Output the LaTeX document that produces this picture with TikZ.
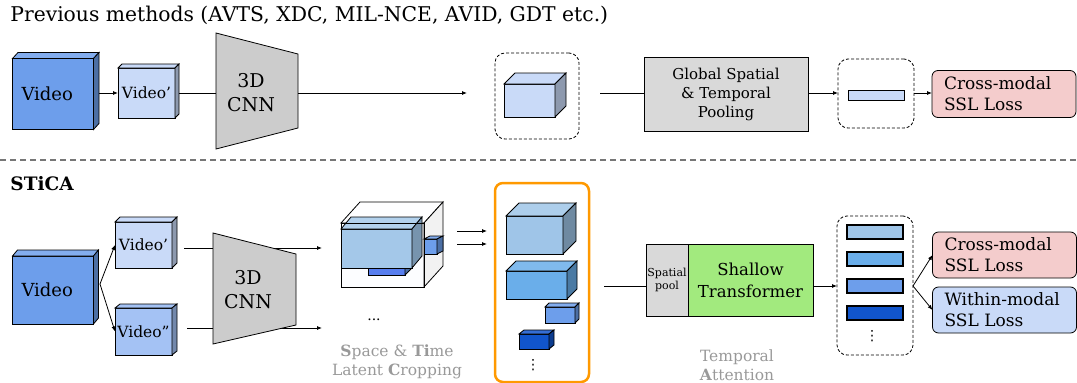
\documentclass[tikz,border=0pt]{standalone}
\usepackage{fontspec}
\setmainfont{DejaVu Serif}
\newfontfamily\dotsfont{DejaVu Sans}
\usepackage{tikz}
\usetikzlibrary{arrows.meta}

\definecolor{vidblue}{HTML}{6D9EEB}
\definecolor{lightblue}{HTML}{C9DAF8}
\definecolor{vidtwoblue}{HTML}{A4C2F4}
\definecolor{cnngray}{HTML}{CCCCCC}
\definecolor{boxgray}{HTML}{D9D9D9}
\definecolor{losspink}{HTML}{F4CCCC}
\definecolor{transgreen}{HTML}{A2EA7E}
\definecolor{cropframe}{HTML}{FF9900}
\definecolor{featone}{HTML}{9FC5E8}
\definecolor{feattwo}{HTML}{6AAEEA}
\definecolor{featthree}{HTML}{6D9EEB}
\definecolor{featfour}{HTML}{1155CC}
\definecolor{capgray}{HTML}{999999}
\definecolor{sepgray}{HTML}{777777}

\newcommand{\fsz}[2]{\fontsize{#1}{#2}\selectfont}
% top and right faces of a box node: name, dx, dy, top colour, side colour
\newcommand{\boxdepth}[5]{%
  \path (#1.north east) ++(#2,-#3) coordinate (#1-tr);
  \path (#1.south east) ++(#2,-#3) coordinate (#1-br);
  \filldraw[fill=#4] (#1.north west) -- ++(#2,-#3) -- (#1-tr) -- (#1.north east) -- cycle;
  \filldraw[fill=#5] (#1.north east) -- (#1-tr) -- (#1-br) -- (#1.south east) -- cycle;
}

\begin{document}
\begin{tikzpicture}[x=1pt,y=1pt,yscale=-1,line width=0.8pt,
  blk/.style={draw,outer sep=0pt,inner sep=0pt,align=center},
  vidbox/.style={blk,align=left,inner xsep=9pt,text width=63pt,font=\fsz{18}{22}},
  smallvid/.style={blk,minimum width=57pt,font=\fsz{15.5}{19}},
  dbox/.style={draw,dash pattern=on 3pt off 2pt,rounded corners=10pt,outer sep=0pt,inner sep=0pt},
  loss/.style={draw,rounded corners=6pt,outer sep=0pt,inner xsep=12pt,inner ysep=0pt,text width=120pt,minimum height=47pt,align=left,font=\fsz{17}{21}},
  bar/.style={draw,line width=1.2pt,outer sep=0pt,inner sep=0pt,minimum width=56pt,minimum height=14pt},
  captxt/.style={text=capgray,align=center,font=\fsz{15.5}{19}},
  vdotstxt/.style={inner sep=0pt,font=\dotsfont\fsz{14}{16}},
  arr/.style={-{Latex[length=5pt,width=4pt]}}]
\useasboundingbox (0,0) rectangle (1077,383);

% Text Node
\node[anchor=base west,inner sep=0pt,font=\fsz{20.3}{24}] (title) at (10,21) {Previous methods (AVTS, XDC, MIL-NCE, AVID, GDT etc.)};

%Shape: Video boxes (previous methods)
\node[vidbox,fill=vidblue,minimum height=71pt] (vidA) at (53,94) {Video};
\boxdepth{vidA}{5.5}{6}{vidblue!85!white}{vidblue!70!black}
\node[smallvid,fill=lightblue,minimum height=50pt] (vidAone) at (146.5,93) {Video’};
\boxdepth{vidAone}{4}{4}{lightblue}{lightblue!70!black}
\draw[arr] (vidA-br |- vidAone.west) -- (vidAone.west);

%Shape: 3D CNN
\coordinate (cnnAl) at (216,93);
\coordinate (cnnAr) at (298,93);
\draw (vidAone-br |- vidAone.west) -- (cnnAl);
\filldraw[fill=cnngray] (216,33) -- (298,54) -- (298,128) -- (216,149) -- cycle;
\node[align=center,font=\fsz{19}{24}] (cnnA) at (251,93) {3D\\CNN};

%Shape: feature volume
\node[dbox,minimum width=84pt,minimum height=86pt] (featA) at (537,96) {};
\node[blk,fill=lightblue,minimum width=51pt,minimum height=33pt] (cubeA) at (529.5,100.5) {};
\boxdepth{cubeA}{11}{11}{lightblue}{lightblue!70!black}
\coordinate (featAin) at (467,93);
\coordinate (featAout) at (600,93);
\draw[arr] (cnnAr) -- (featAin);

%Shape: pooling and loss
\node[blk,fill=boxgray,minimum width=164pt,minimum height=74pt,font=\fsz{15}{19}] (poolA) at (726,94) {Global Spatial\\\& Temporal\\Pooling};
\draw (featAout) -- (featAout -| poolA.west);
\node[dbox,minimum width=76pt,minimum height=69pt] (vecA) at (876,93.5) {};
\node[blk,fill=lightblue,minimum width=56pt,minimum height=10pt] (barA) at (876,95) {};
\draw[arr] (poolA.east |- featAout) -- (vecA.west |- featAout);
\node[loss,fill=losspink] (lossA) at (1004,94) {Cross-modal\\SSL Loss};
\draw[arr] (vecA.east |- featAout) -- (lossA.west |- featAout);

%Straight Lines: separator
\draw[sepgray,line width=1.5pt,dash pattern=on 6pt off 4pt] (0,160) -- (1077,160);

% Text Node
\node[anchor=base west,inner sep=0pt,font=\bfseries\fsz{18.5}{22}] (stica) at (10,190) {STiCA};

%Shape: Video boxes (STiCA)
\node[vidbox,fill=vidblue,minimum height=68pt] (vidB) at (53,290) {Video};
\boxdepth{vidB}{5}{6}{vidblue!85!white}{vidblue!70!black}
\node[smallvid,fill=lightblue,minimum height=46pt] (vidBone) at (143.5,245) {Video’};
\boxdepth{vidBone}{5}{5}{lightblue}{lightblue!70!black}
\node[smallvid,fill=vidtwoblue,minimum height=47pt] (vidBtwo) at (143.5,331.5) {Video”};
\boxdepth{vidBtwo}{5}{4}{vidtwoblue}{vidtwoblue!70!black}
\coordinate (vidBo) at (100,284);
\draw[arr] (vidBo) -- (vidBone.west);
\draw[arr] (vidBo) -- (vidBtwo.west);

%Shape: 3D CNN
\coordinate (cnnBs) at (184,248);
\coordinate (cnnBt) at (322,248);
\coordinate (cnnBss) at (187,328);
\coordinate (cnnBtt) at (322,328);
\draw[arr] (cnnBs) -- (cnnBt);
\draw[arr] (cnnBss) -- (cnnBtt);
\filldraw[fill=cnngray] (213,233) -- (296,254) -- (296,325) -- (213,344) -- cycle;
\node[align=center,font=\fsz{19}{24}] (cnnB) at (248,290) {3D\\CNN};

%Shape: latent crops
\node[blk,fill=white!95!lightblue,minimum width=83pt,minimum height=64pt] (cropB) at (382.5,255) {};
\boxdepth{cropB}{19}{21}{white!98!lightblue}{white!80!lightgray}
\node[blk,fill=featthree!80!blue,minimum width=37pt,minimum height=7pt] (cropS) at (386.5,271.5) {};
\boxdepth{cropS}{6}{6}{featthree}{featthree!70!black}
\node[blk,fill=featone!95!white,minimum width=71pt,minimum height=39pt] (cropIn) at (376.5,248.5) {};
\boxdepth{cropIn}{10}{12}{featone!80!white}{featone!75!black}
\node[blk,fill=featthree,minimum width=13pt,minimum height=15pt] (cropR) at (430.5,246.5) {};
\boxdepth{cropR}{6}{3}{featthree!85!white}{featthree!70!black}
\draw (cropB.north west) rectangle (cropB.south east);
\node[font=\fsz{14}{16}] (dotsB) at (374,320) {...};
\node[captxt] (cropcap) at (397,362) {\textbf{S}pace \& \textbf{Ti}me\\Latent \textbf{C}ropping};

\coordinate (cropAs) at (457,231);
\coordinate (cropAt) at (487,231);
\coordinate (cropBs) at (457,244);
\coordinate (cropBt) at (487,244);
\draw[arr] (cropAs) -- (cropAt);
\draw[arr] (cropBs) -- (cropBt);

%Shape: cropped features
\node[draw=cropframe,line width=2.5pt,rounded corners=8pt,minimum width=94pt,minimum height=199pt] (frame) at (542,282.5) {};
\node[blk,fill=featone,minimum width=57pt,minimum height=38pt] (fbone) at (534.5,235) {};
\boxdepth{fbone}{13}{13}{featone!85!white}{featone!70!black}
\node[blk,fill=feattwo,minimum width=61pt,minimum height=28pt] (fbtwo) at (536.5,285) {};
\boxdepth{fbtwo}{10}{10}{feattwo!85!white}{feattwo!70!black}
\node[blk,fill=featthree,minimum width=30pt,minimum height=16pt] (fbthree) at (560,315) {};
\boxdepth{fbthree}{4}{4}{featthree!85!white}{featthree!70!black}
\node[blk,fill=featfour,minimum width=30pt,minimum height=15pt] (fbfour) at (534,341.5) {};
\boxdepth{fbfour}{5}{4}{featfour!85!white}{featfour!70!black}
\node[vdotstxt] (fbdots) at (533,365) {⋮};

%Shape: temporal attention
\coordinate (transin) at (604,286);
\node[blk,fill=boxgray,minimum width=42pt,minimum height=72pt,font=\fsz{11}{13}] (spool) at (667,280) {Spatial\\pool};
\node[blk,fill=transgreen,minimum width=125pt,minimum height=72pt,font=\fsz{16.5}{22}] (trans) at (750.5,280) {Shallow\\Transformer};
\draw (transin) -- (transin -| spool.west);
\node[captxt] (attcap) at (737,365) {Temporal\\\textbf{A}ttention};

%Shape: per-clip features
\node[dbox,minimum width=76pt,minimum height=139pt] (vecB) at (875,285.5) {};
\node[bar,fill=featone] (barone) at (875,232) {};
\node[bar,fill=feattwo] (bartwo) at (875,259) {};
\node[bar,fill=featthree] (barthree) at (875,286) {};
\node[bar,fill=featfour] (barfour) at (875,313) {};
\node[vdotstxt] (vecdots) at (872,336) {⋮};
\draw[arr] (trans.east |- transin) -- (vecB.west |- transin);

%Shape: losses
\node[loss,fill=losspink,minimum height=46pt] (lossBone) at (1004.5,255) {Cross-modal\\SSL Loss};
\node[loss,fill=lightblue,minimum height=46pt] (lossBtwo) at (1004.5,310) {Within-modal\\SSL Loss};
\draw[arr] (vecB.east |- transin) -- (lossBone.west);
\draw[arr] (vecB.east |- transin) -- (lossBtwo.west);

\end{tikzpicture}
\end{document}
